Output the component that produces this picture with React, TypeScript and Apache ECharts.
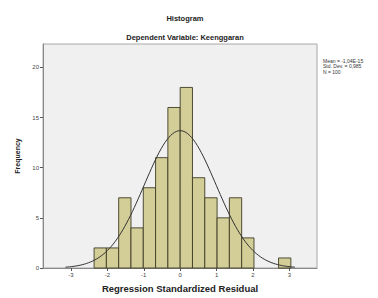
import React, { useEffect, useRef } from "react";
import * as echarts from "echarts";

const binStarts = [-2.366, -2.028, -1.69, -1.352, -1.014, -0.676, -0.338, 0, 0.338, 0.676, 1.014, 1.352, 1.69, 2.704];
const binWidth = 0.338;
const counts = [2, 2, 7, 4, 8, 11, 16, 18, 9, 7, 5, 7, 3, 1];
const xTicks = [-3, -2, -1, 0, 1, 2, 3];
const yTicks = [0, 5, 10, 15, 20];
const statsLines = ["Mean = -1,04E-15", "Std. Dev. = 0,985", "N = 100"];
const fitMean = 0;
const fitSd = 0.985;
const fitN = 100;
const curveFrom = -3.15;
const curveTo = 3.15;
const curveSteps = 120;

export default function App() {
  const ref = useRef<HTMLDivElement>(null);
  useEffect(() => {
    if (!ref.current) return;
    const chart = echarts.init(ref.current, null, { renderer: "svg" });
    const barData = binStarts.map((s, i) => [s, s + binWidth, counts[i]]);
    const curve: number[][] = [];
    for (let i = 0; i <= curveSteps; i++) {
      const x = curveFrom + ((curveTo - curveFrom) * i) / curveSteps;
      const z = (x - fitMean) / fitSd;
      const y = (fitN * binWidth) / (fitSd * Math.sqrt(2 * Math.PI)) * Math.exp(-0.5 * z * z);
      curve.push([x, y]);
    }
    const font = "Liberation Sans, Arial, sans-serif";
    chart.setOption({
      animation: false,
      backgroundColor: "#ffffff",
      grid: { left: 43, top: 44, right: 61, bottom: 26, show: true, backgroundColor: "#f0f0f0", borderColor: "#a8a8a8", borderWidth: 1 },
      title: [
        { text: "Histogram", left: 180, top: 9, textAlign: "center", textStyle: { fontFamily: font, fontSize: 7.5, fontWeight: "bold", color: "#222" } },
        { text: "Dependent Variable: Keenggaran", left: 180, top: 28, textAlign: "center", textStyle: { fontFamily: font, fontSize: 7.5, fontWeight: "bold", color: "#222" } },
      ],
      graphic: [
        {
          type: "text",
          left: 323,
          top: 58,
          style: { text: statsLines.join("\n"), fontFamily: font, fontSize: 5, lineHeight: 5.5, fill: "#333" },
        },
      ],
      xAxis: {
        type: "value",
        min: -3.77,
        max: 3.76,
        name: "Regression Standardized Residual",
        nameLocation: "middle",
        nameGap: 15,
        nameTextStyle: { fontFamily: font, fontSize: 9.5, fontWeight: "bold", color: "#222" },
        splitLine: { show: false },
        axisLine: { show: true, onZero: false, lineStyle: { color: "#888", width: 1 } },
        axisTick: { show: true, customValues: xTicks, length: 3, lineStyle: { color: "#555" } },
        axisLabel: { customValues: xTicks, fontFamily: font, fontSize: 6, color: "#444", margin: 4 },
      },
      yAxis: {
        type: "value",
        min: 0,
        max: 22.33,
        name: "Frequency",
        nameLocation: "middle",
        nameGap: 21,
        nameTextStyle: { fontFamily: font, fontSize: 7, fontWeight: "bold", color: "#222" },
        splitLine: { show: false },
        axisLine: { show: true, onZero: false, lineStyle: { color: "#888", width: 1 } },
        axisTick: { show: true, customValues: yTicks, length: 3, lineStyle: { color: "#555" } },
        axisLabel: { customValues: yTicks, fontFamily: font, fontSize: 6, color: "#444", margin: 4 },
      },
      series: [
        {
          type: "custom",
          data: barData,
          encode: { x: [0, 1], y: 2 },
          renderItem: (params: any, api: any) => {
            const p0 = api.coord([api.value(0), api.value(2)]);
            const p1 = api.coord([api.value(1), 0]);
            return {
              type: "rect",
              shape: { x: p0[0], y: p0[1], width: p1[0] - p0[0], height: p1[1] - p0[1] },
              style: { fill: "#d3ce97", stroke: "#3e3c26", lineWidth: 0.9 },
            };
          },
          z: 2,
        },
        {
          type: "line",
          data: curve,
          showSymbol: false,
          smooth: false,
          lineStyle: { color: "#333", width: 1 },
          z: 3,
        },
      ],
    });
    return () => chart.dispose();
  }, []);
  return <div ref={ref} style={{ position: "fixed", left: 0, top: 0, width: 378, height: 298 }} />;
}
